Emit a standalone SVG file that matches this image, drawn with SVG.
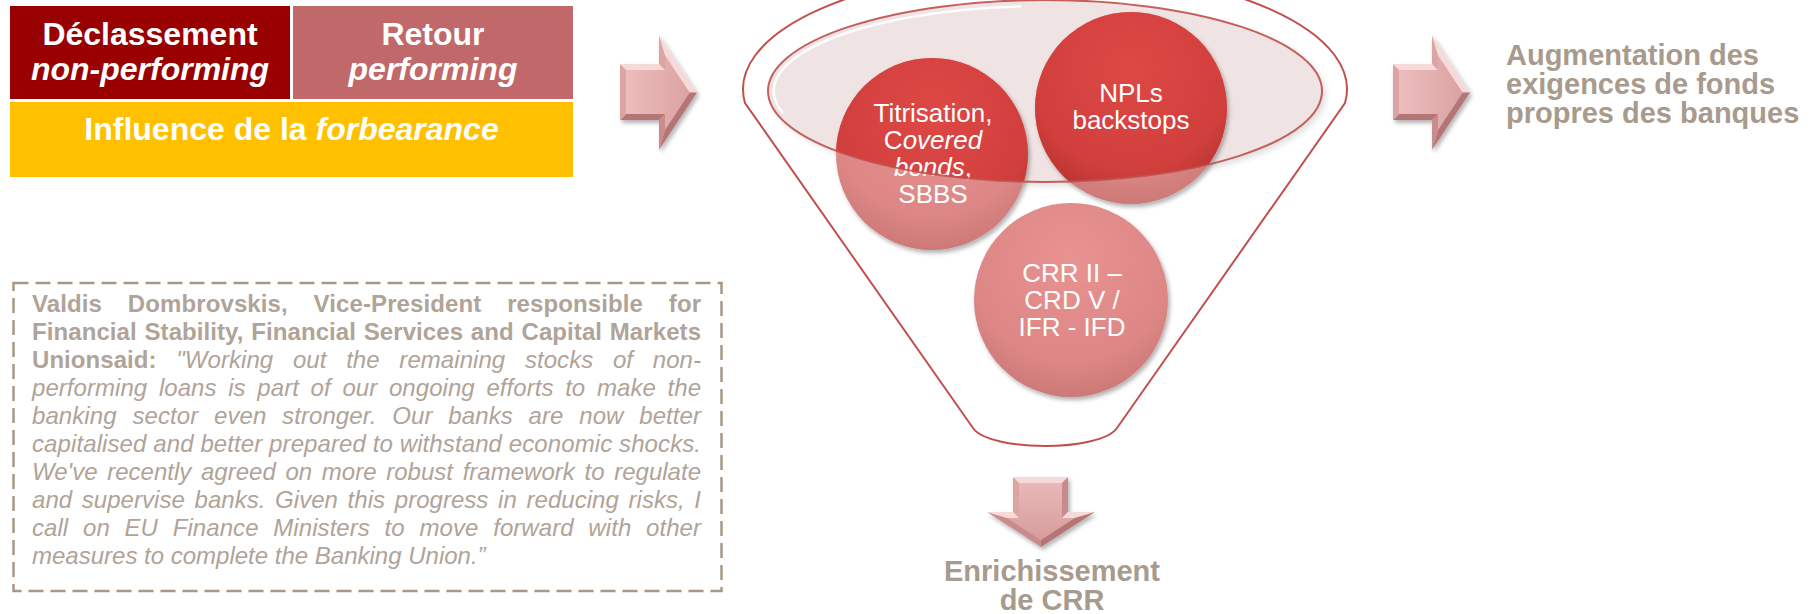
<svg xmlns="http://www.w3.org/2000/svg" width="1809" height="614" viewBox="0 0 1809 614">
<style>
  text { font-family: "Liberation Sans", Arial, sans-serif; }
  .wb { fill: #ffffff; font-weight: bold; font-size: 32px; text-anchor: middle; }
  .it { font-style: italic; }
  .circ { fill: #ffffff; font-size: 26px; text-anchor: middle; }
  .taupe { fill: #A89A8D; font-weight: bold; font-size: 29px; }
  .q { fill: #B0A398; font-size: 24px; }
  .qb { font-weight: bold; }
  .fun { fill: none; stroke: #C0504D; stroke-width: 2; }
  .lt { fill: #F6DADA; }
  .md { fill: #DDA4A4; }
  .dk { fill: #B67474; }
  .dm { fill: #C98B8B; }
</style>
<defs>
  <linearGradient id="faceR" x1="0" y1="0" x2="1" y2="0">
    <stop offset="0" stop-color="#EBBDBD"/>
    <stop offset="1" stop-color="#DCA2A2"/>
  </linearGradient>
  <linearGradient id="faceD" x1="0" y1="0" x2="0" y2="1">
    <stop offset="0" stop-color="#E9B8B8"/>
    <stop offset="1" stop-color="#D79C9C"/>
  </linearGradient>
  <radialGradient id="darkC" cx="0.5" cy="0.3" r="0.75">
    <stop offset="0" stop-color="#DE4845"/>
    <stop offset="0.7" stop-color="#D03F3C"/>
    <stop offset="1" stop-color="#B02F2D"/>
  </radialGradient>
  <radialGradient id="lightC" cx="0.5" cy="0.3" r="0.75">
    <stop offset="0" stop-color="#E89391"/>
    <stop offset="0.7" stop-color="#DC8785"/>
    <stop offset="1" stop-color="#C87573"/>
  </radialGradient>
  <filter id="sh" x="-20%" y="-20%" width="140%" height="140%">
    <feDropShadow dx="2" dy="3" stdDeviation="2" flood-color="#000" flood-opacity="0.3"/>
  </filter>
  <filter id="blur" x="-10%" y="-20%" width="120%" height="140%">
    <feGaussianBlur stdDeviation="3"/>
  </filter>
  <clipPath id="inEll">
    <ellipse cx="1045" cy="91" rx="277" ry="91"/>
  </clipPath>
  <g id="arrowRight">
    <polygon points="6,35 45,35 45,20 69.8,57.5 45,95 45,79 6,79" fill="url(#faceR)"/>
    <polygon class="lt" points="0,29 39,29 45,35 6,35"/>
    <polygon class="md" points="39,29 39,0 45,20 45,35"/>
    <polygon class="lt" points="39,0 77,57.5 69.8,57.5 45,20"/>
    <polygon class="dk" points="77,57.5 39,115 45,95 69.8,57.5"/>
    <polygon class="dm" points="39,115 39,85 45,79 45,95"/>
    <polygon class="dk" points="39,85 0,85 6,79 45,79"/>
    <polygon class="md" points="0,85 0,29 6,35 6,79"/>
  </g>
</defs>

<!-- top-left boxes -->
<g id="box-declassement">
  <rect x="10" y="6" width="280" height="93" fill="#990000"/>
  <text class="wb" x="150" y="45">Déclassement</text>
  <text class="wb it" x="150" y="80">non-performing</text>
</g>
<g id="box-retour">
  <rect x="293" y="6" width="280" height="93" fill="#C0686A"/>
  <text class="wb" x="433" y="45">Retour</text>
  <text class="wb it" x="433" y="80">performing</text>
</g>
<g id="box-forbearance">
  <rect x="10" y="102" width="563" height="75" fill="#FFC000"/>
  <text class="wb" x="291.5" y="140">Influence de la <tspan class="it">forbearance</tspan></text>
</g>

<!-- funnel -->
<g id="funnel">
  <path class="fun" d="M 745 103 A 302 120 0 1 1 1345 103 L 1117 428 C 1100 452, 990 452, 973 428 Z" fill="#ffffff"/>
  <ellipse cx="1049" cy="95" rx="277" ry="91" fill="#000" opacity="0.12" filter="url(#blur)"/>
  <ellipse cx="1045" cy="91" rx="277" ry="91" fill="#F0E3E3"/>
  <path d="M 783 113 A 271 85 0 0 1 1021 6.3" fill="none" stroke="#ffffff" stroke-width="2.5" opacity="0.9"/>
</g>

<g id="circle-titrisation">
  <circle cx="932" cy="154" r="96" fill="url(#lightC)" filter="url(#sh)"/>
  <circle cx="932" cy="154" r="96" fill="url(#darkC)" clip-path="url(#inEll)"/>
  <text class="circ" x="933" y="122">Titrisation,</text>
  <text class="circ" x="933" y="149">C<tspan class="it">overed</tspan></text>
  <text class="circ" x="933" y="176"><tspan class="it">bonds</tspan>,</text>
  <text class="circ" x="933" y="203">SBBS</text>
</g>
<g id="circle-npl">
  <circle cx="1131" cy="108" r="96" fill="url(#lightC)" filter="url(#sh)"/>
  <circle cx="1131" cy="108" r="96" fill="url(#darkC)" clip-path="url(#inEll)"/>
  <text class="circ" x="1131" y="102">NPLs</text>
  <text class="circ" x="1131" y="129">backstops</text>
</g>
<g id="circle-crr">
  <circle cx="1071" cy="300" r="97" fill="url(#lightC)" filter="url(#sh)"/>
  <text class="circ" x="1072" y="282">CRR II –</text>
  <text class="circ" x="1072" y="309">CRD V /</text>
  <text class="circ" x="1072" y="336">IFR - IFD</text>
</g>
<g id="funnel-rim">
  <ellipse class="fun" cx="1045" cy="91" rx="277" ry="91" stroke-opacity="0.9"/>
</g>

<!-- connectors (arrows) -->
<g id="connectors">
  <use href="#arrowRight" transform="translate(620,35)" filter="url(#sh)"/>
  <use href="#arrowRight" transform="translate(1393,35)" filter="url(#sh)"/>
  <g transform="translate(987,477)" filter="url(#sh)">
    <polygon points="32,6 75,6 75,41 87.7,41 54,62.9 20.3,41 32,41" fill="url(#faceD)"/>
    <polygon class="lt" points="26,0 81,0 75,6 32,6"/>
    <polygon class="dm" points="81,0 81,35 75,41 75,6"/>
    <polygon class="lt" points="81,35 108,35 87.7,41 75,41"/>
    <polygon class="dk" points="108,35 54,70 54,62.9 87.7,41"/>
    <polygon class="dm" points="54,70 0,35 20.3,41 54,62.9"/>
    <polygon class="lt" points="0,35 26,35 32,41 20.3,41"/>
    <polygon class="md" points="26,35 26,0 32,6 32,41"/>
  </g>
</g>

<g id="label-augmentation">
  <text class="taupe" x="1506" y="65">Augmentation des</text>
  <text class="taupe" x="1506" y="94">exigences de fonds</text>
  <text class="taupe" x="1506" y="123">propres des banques</text>
</g>
<g id="label-enrichissement">
  <text class="taupe" x="1052" y="581" text-anchor="middle">Enrichissement</text>
  <text class="taupe" x="1052" y="610" text-anchor="middle">de CRR</text>
</g>

<g id="quote">
  <rect x="13.5" y="283" width="708" height="308" fill="none" stroke="#A89686" stroke-width="2.5" stroke-dasharray="15 7"/>
  <text class="q qb" x="32" y="312" textLength="669" lengthAdjust="spacing" word-spacing="19">Valdis Dombrovskis, Vice-President responsible for</text>
  <text class="q qb" x="32" y="340" textLength="669" lengthAdjust="spacing" word-spacing="1">Financial Stability, Financial Services and Capital Markets</text>
  <text class="q" x="32" y="368" textLength="669" lengthAdjust="spacing" word-spacing="13"><tspan class="qb">Unionsaid: </tspan><tspan class="it">"Working out the remaining stocks of non-</tspan></text>
  <text class="q it" x="32" y="396" textLength="669" lengthAdjust="spacing" word-spacing="5">performing loans is part of our ongoing efforts to make the</text>
  <text class="q it" x="32" y="424" textLength="669" lengthAdjust="spacing" word-spacing="9">banking sector even stronger. Our banks are now better</text>
  <text class="q it" x="32" y="452" textLength="669" lengthAdjust="spacing">capitalised and better prepared to withstand economic shocks.</text>
  <text class="q it" x="32" y="480" textLength="669" lengthAdjust="spacing" word-spacing="3">We've recently agreed on more robust framework to regulate</text>
  <text class="q it" x="32" y="508" textLength="669" lengthAdjust="spacing" word-spacing="3">and supervise banks. Given this progress in reducing risks, I</text>
  <text class="q it" x="32" y="536" textLength="669" lengthAdjust="spacing" word-spacing="8">call on EU Finance Ministers to move forward with other</text>
  <text class="q it" x="32" y="564">measures to complete the Banking Union.”</text>
</g>
</svg>
